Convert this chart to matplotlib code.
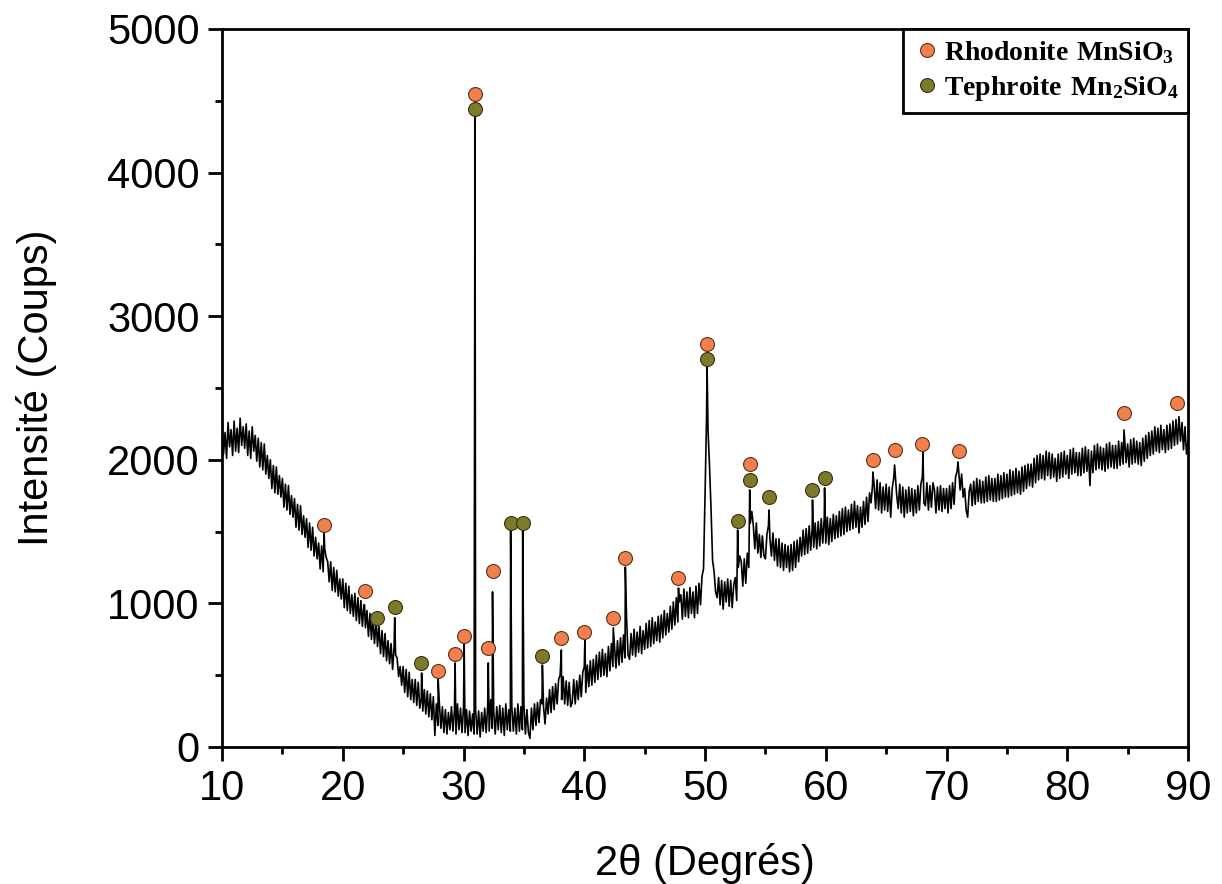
import numpy as np
import matplotlib.pyplot as plt
from matplotlib.lines import Line2D
from matplotlib.ticker import MultipleLocator

plt.rcParams['font.family'] = ['Liberation Sans', 'DejaVu Sans']
plt.rcParams['mathtext.fontset'] = 'custom'
plt.rcParams['mathtext.bf'] = 'Liberation Serif:bold'
plt.rcParams['mathtext.rm'] = 'Liberation Serif:bold'

# scan grid: 10 -> 90 deg, 0.125 deg step (one row = one degree)
scan_start = 10.0
scan_step = 0.125
background = [
    2240, 2040, 2190, 2010, 2260, 2090, 2210, 2030,
    2270, 2060, 2220, 2050, 2290, 2100, 2230, 2080,
    2250, 2030, 2200, 2010, 2230, 2060, 2170, 1990,
    2150, 1950, 2120, 1930, 2110, 1900, 2030, 1870,
    2000, 1800, 1960, 1770, 1950, 1760, 1890, 1740,
    1870, 1670, 1830, 1650, 1820, 1620, 1750, 1600,
    1730, 1530, 1690, 1510, 1680, 1480, 1610, 1460,
    1590, 1390, 1560, 1370, 1530, 1330, 1460, 1310,
    1420, 1240, 1400, 1220, 1380, 1320, 1290, 1150,
    1290, 1090, 1250, 1080, 1230, 1050, 1170, 1030,
    1170, 970, 1140, 950, 1120, 930, 1060, 910,
    1070, 880, 1040, 860, 1020, 840, 990, 830,
    950, 770, 930, 750, 900, 720, 860, 700,
    840, 650, 810, 630, 790, 600, 740, 580,
    720, 540, 700, 640, 620, 490, 560, 430,
    560, 380, 540, 350, 520, 330, 470, 310,
    470, 290, 450, 270, 340, 250, 400, 230,
    390, 210, 370, 190, 350, 80, 300, 150,
    300, 130, 280, 100, 260, 90, 240, 120,
    280, 110, 260, 90, 300, 120, 270, 100,
    280, 100, 260, 80, 250, 110, 230, 90,
    260, 90, 250, 70, 240, 110, 270, 100,
    290, 110, 330, 130, 250, 90, 280, 120,
    290, 100, 270, 80, 300, 120, 260, 110,
    280, 110, 270, 90, 300, 110, 280, 120,
    290, 90, 260, 100, 60, 270, 120, 300,
    150, 310, 170, 330, 300, 280, 160, 340,
    230, 400, 240, 420, 260, 440, 300, 470,
    500, 330, 490, 300, 460, 290, 450, 280,
    310, 470, 300, 460, 330, 500, 350, 520,
    560, 380, 570, 420, 600, 430, 610, 450,
    640, 470, 660, 490, 680, 500, 650, 490,
    700, 530, 720, 560, 710, 550, 740, 570,
    760, 590, 780, 620, 900, 640, 610, 790,
    640, 820, 630, 800, 660, 840, 650, 810,
    680, 860, 690, 880, 700, 900, 720, 870,
    740, 910, 730, 920, 760, 950, 780, 930,
    800, 980, 820, 1010, 850, 1040, 870, 1010,
    1060, 890, 1100, 910, 1080, 900, 1110, 930,
    1080, 900, 1120, 930, 1140, 990, 1190, 1240,
    1750, 2300, 2200, 1950, 1650, 1300, 1220, 1080,
    1040, 1180, 990, 1160, 960, 1150, 1010, 1170,
    980, 1160, 970, 1130, 1180, 1020, 1250, 1330,
    1290, 1120, 1310, 1140, 1350, 1250, 1560, 1640,
    1540, 1380, 1560, 1350, 1480, 1320, 1470, 1330,
    1310, 1480, 1540, 1450, 1330, 1490, 1300, 1450,
    1260, 1450, 1250, 1420, 1230, 1410, 1250, 1400,
    1220, 1410, 1230, 1430, 1250, 1440, 1290, 1460,
    1330, 1510, 1340, 1520, 1350, 1540, 1370, 1530,
    1390, 1560, 1380, 1570, 1400, 1590, 1420, 1600,
    1420, 1600, 1410, 1590, 1430, 1620, 1450, 1610,
    1460, 1640, 1470, 1660, 1480, 1670, 1500, 1650,
    1510, 1690, 1520, 1710, 1530, 1680, 1490, 1670,
    1530, 1710, 1550, 1740, 1570, 1770, 1700, 1830,
    1830, 1660, 1860, 1650, 1840, 1630, 1810, 1650,
    1830, 1640, 1810, 1600, 1800, 1870, 1900, 1750,
    1660, 1830, 1630, 1810, 1600, 1790, 1630, 1810,
    1640, 1800, 1610, 1790, 1630, 1820, 1650, 1830,
    1880, 1700, 1680, 1840, 1650, 1820, 1670, 1840,
    1790, 1630, 1810, 1650, 1820, 1640, 1800, 1660,
    1800, 1630, 1820, 1660, 1840, 1690, 1880, 1920,
    1930, 1790, 1900, 1740, 1800, 1650, 1600, 1780,
    1830, 1680, 1850, 1690, 1870, 1710, 1860, 1700,
    1850, 1700, 1880, 1710, 1890, 1720, 1870, 1710,
    1870, 1710, 1900, 1720, 1890, 1730, 1910, 1740,
    1900, 1740, 1930, 1750, 1920, 1760, 1940, 1770,
    1920, 1760, 1950, 1780, 1960, 1800, 1970, 1820,
    1970, 1810, 2010, 1840, 2030, 1860, 2040, 1870,
    2030, 1860, 2060, 1890, 2050, 1870, 2040, 1880,
    2010, 1850, 2040, 1870, 2050, 1880, 2060, 1900,
    2030, 1870, 2070, 1900, 2080, 1910, 2050, 1890,
    2050, 1890, 2080, 1910, 2090, 1920, 2070, 1820,
    2060, 1910, 2100, 1930, 2110, 1940, 2090, 1930,
    2080, 1920, 2110, 1940, 2120, 1950, 2100, 1940,
    2100, 1940, 2130, 1960, 2120, 1970, 2140, 1980,
    2110, 1950, 2140, 1970, 2150, 1980, 2130, 1970,
    2120, 1960, 2150, 1990, 2170, 2010, 2190, 2030,
    2200, 2040, 2230, 2060, 2220, 2050, 2240, 2070,
    2210, 2050, 2240, 2070, 2250, 2080, 2270, 2100,
    2280, 2110, 2300, 2130, 2260, 2070, 2230, 2040,
    2130,
]

# diffraction peak apexes
peak_pos = [18.45, 21.8, 22.8, 24.3, 26.53, 27.9, 29.3, 30.05, 30.95, 32.05,
            32.4, 33.9, 34.9, 36.53, 38.1, 40.05, 42.4, 43.4, 47.8, 50.17,
            52.7, 53.7, 55.3, 58.9, 59.9, 63.9, 65.7, 68.05, 70.95, 84.7]
peak_height = [1500, 990, 830, 900, 515, 470, 585, 724, 4436, 585,
               1080, 1510, 1510, 571, 675, 745, 830, 1253, 1107, 2646,
               1511, 1790, 1650, 1720, 1804, 1915, 1964, 2054, 1985, 2208]

# phase markers
rhodonite_x = [18.45, 21.8, 27.9, 29.27, 30.0, 30.95, 32.0, 32.4, 38.1, 40.0,
               42.4, 43.4, 47.8, 50.2, 53.7, 63.9, 65.7, 68.0, 71.0, 84.7, 89.1]
rhodonite_y = [1546, 1086, 529, 648, 773, 4550, 689, 1226, 759, 801,
               898, 1316, 1177, 2806, 1971, 1999, 2068, 2110, 2061, 2326, 2396]
tephroite_x = [22.8, 24.3, 26.5, 30.95, 33.9, 34.9, 36.5, 50.2, 52.7, 53.7,
               55.3, 58.9, 59.9]
tephroite_y = [898, 975, 585, 4445, 1560, 1560, 634, 2702, 1574, 1859,
               1741, 1790, 1873]

orange = '#F27F4C'
olive = '#7D7A2C'

scan_x = scan_start + scan_step * np.arange(len(background))
x = np.concatenate([scan_x, peak_pos])
y = np.concatenate([background, peak_height])
order = np.argsort(x, kind='stable')
x, y = x[order], y[order]

fig = plt.figure(figsize=(12.22, 8.84), dpi=100)
ax = fig.add_axes([0.1817, 0.155, 0.7905, 0.8122])

ax.plot(x, y, color='black', lw=1.2, zorder=2)
ax.plot(rhodonite_x, rhodonite_y, 'o', ms=10, mfc=orange, mec='#5a3020', mew=0.8, zorder=3)
ax.plot(tephroite_x, tephroite_y, 'o', ms=10, mfc=olive, mec='#3a3010', mew=0.8, zorder=3)

ax.set_xlim(10, 90)
ax.set_ylim(0, 5000)
ax.xaxis.set_major_locator(MultipleLocator(10))
ax.xaxis.set_minor_locator(MultipleLocator(5))
ax.yaxis.set_major_locator(MultipleLocator(1000))
ax.yaxis.set_minor_locator(MultipleLocator(500))
ax.tick_params(which='both', direction='out', width=2, labelsize=30, top=False, right=False)
ax.tick_params(which='major', length=10, pad=6)
ax.tick_params(which='minor', length=5)
for sp in ax.spines.values():
    sp.set_linewidth(2)

ax.set_xlabel('2θ (Degrés)', fontsize=30, labelpad=24)
ax.set_ylabel('Intensité (Coups)', fontsize=30, labelpad=36)

handles = [
    Line2D([], [], ls='none', marker='o', ms=10, mfc=orange, mec='#5a3020', mew=0.8),
    Line2D([], [], ls='none', marker='o', ms=10, mfc=olive, mec='#3a3010', mew=0.8),
]
labels = [r'$\mathbf{Rhodonite\ MnSiO_3}$', r'$\mathbf{Tephroite\ Mn_2SiO_4}$']
leg = ax.legend(handles, labels, loc='upper right', borderaxespad=0, fancybox=False,
                framealpha=1, edgecolor='black', fontsize=20, handletextpad=0.1,
                handlelength=1.0, borderpad=0.35, labelspacing=0.3)
leg.get_frame().set_linewidth(2)

fig.savefig('out.png', dpi=100)
